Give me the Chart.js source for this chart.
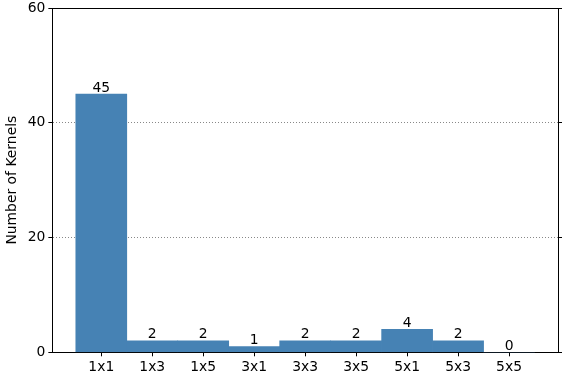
<!DOCTYPE html>
<html>
<head>
<meta charset="utf-8">
<script src="https://cdn.jsdelivr.net/npm/chart.js@4/dist/chart.umd.min.js"></script>
<style>
  html, body { margin: 0; padding: 0; background: #fff; }
  #wrap { width: 569px; height: 387px; }
</style>
</head>
<body>
<div id="wrap"><canvas id="myChart"></canvas></div>
<script>
const kernelSizes = ['1x1', '1x3', '1x5', '3x1', '3x3', '3x5', '5x1', '5x3', '5x5'];
const kernelCounts = [45, 2, 2, 1, 2, 2, 4, 2, 0];
const yTicks = [0, 20, 40, 60];

const barColor = '#4682b4';
const font = { family: 'DejaVu Sans', size: 13.9 };

// value labels above each bar
const valueLabels = {
  id: 'valueLabels',
  afterDatasetsDraw(chart) {
    const ctx = chart.ctx;
    const meta = chart.getDatasetMeta(0);
    ctx.save();
    ctx.font = '13.9px "DejaVu Sans"';
    ctx.fillStyle = '#000';
    ctx.textAlign = 'center';
    ctx.textBaseline = 'bottom';
    meta.data.forEach((bar, i) => {
      ctx.fillText(String(kernelCounts[i]), bar.x, bar.y + 1);
    });
    ctx.restore();
  }
};

const ctx = document.getElementById('myChart').getContext('2d');
const myChart = new Chart(ctx, {
  type: 'bar',
  data: {
    datasets: [{
      data: kernelCounts.map((v, i) => ({ x: i, y: v })),
      backgroundColor: barColor,
      borderWidth: 0,
      barPercentage: 1,
      categoryPercentage: 1
    }]
  },
  options: {
    responsive: true,
    maintainAspectRatio: false,
    animation: false,
    layout: { padding: { left: 4, right: 7, top: 8, bottom: 8 } },
    plugins: {
      legend: { display: false },
      tooltip: { enabled: false }
    },
    scales: {
      x: {
        type: 'linear',
        offset: false,
        min: -0.96,
        max: 8.96,
        afterBuildTicks: (axis) => {
          axis.ticks = kernelSizes.map((_, i) => ({ value: i }));
        },
        ticks: {
          color: '#000',
          font: font,
          padding: 3,
          maxRotation: 0,
          callback: (v) => kernelSizes[v] ?? ''
        },
        grid: { offset: false, drawOnChartArea: false, drawTicks: true, tickLength: 4, color: '#000' },
        border: { display: true, color: '#000', width: 1 }
      },
      xTop: {
        type: 'linear',
        position: 'top',
        offset: false,
        min: -0.96,
        max: 8.96,
        ticks: { display: false },
        grid: { display: false, drawTicks: false },
        border: { display: true, color: '#000', width: 1 },
        afterFit: (axis) => { axis.height = 0; }
      },
      y: {
        min: 0,
        max: 60,
        afterBuildTicks: (axis) => {
          axis.ticks = yTicks.map(v => ({ value: v }));
        },
        afterFit: (axis) => { axis.paddingTop = 0; axis.paddingBottom = 0; },
        ticks: { color: '#000', font: font, padding: 3 },
        grid: {
          color: (c) => (c.tick && c.tick.value % 60 !== 0) ? '#888' : 'rgba(0,0,0,0)',
          tickColor: '#000',
          lineWidth: 1,
          tickBorderDash: [],
          tickLength: 4
        },
        border: { display: true, color: '#000', width: 1, dash: [1, 2] },
        title: {
          display: true,
          text: 'Number of Kernels',
          color: '#000',
          font: font,
          padding: { top: 0, bottom: 4 }
        }
      },
      yRight: {
        position: 'right',
        min: 0,
        max: 60,
        afterBuildTicks: (axis) => {
          axis.ticks = yTicks.map(v => ({ value: v }));
        },
        ticks: { display: false },
        grid: { drawOnChartArea: false, color: '#000', tickLength: 4 },
        border: { display: true, color: '#000', width: 1 }
      }
    }
  },
  plugins: [valueLabels]
});
</script>
</body>
</html>
